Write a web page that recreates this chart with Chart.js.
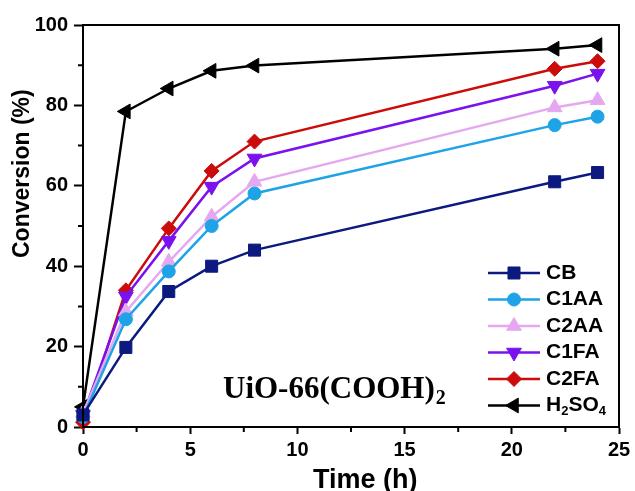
<!DOCTYPE html>
<html>
<head>
<meta charset="utf-8">
<script src="https://cdn.jsdelivr.net/npm/chart.js@4.4.1/dist/chart.umd.min.js"></script>
<style>
  html, body { margin: 0; padding: 0; background: #fff; }
  canvas { display: block; }
</style>
</head>
<body>
<canvas id="conv" width="635" height="491"></canvas>
<script>
(function() {
    'use strict';

    // reaction time (h) and conversion (%) per catalyst
    var times = [0, 2, 4, 6, 8, 22, 24];
    var cb    = [3.0, 19.8, 33.7, 40.0, 44.0, 61.0, 63.3];
    var c1aa  = [2.5, 26.8, 38.7, 50.0, 58.1, 75.1, 77.2];
    var c2aa  = [3.5, 28.7, 41.1, 52.3, 61.0, 79.5, 81.3];
    var c1fa  = [3.0, 32.5, 46.3, 59.8, 66.8, 84.9, 87.9];
    var c2fa  = [1.2, 34.0, 49.4, 63.7, 71.0, 89.1, 91.0];
    var h2so4 = [5.0, 78.5, 84.2, 88.6, 89.9, 94.1, 95.0];

    var xTicks = [0, 5, 10, 15, 20, 25];
    var yTicks = [0, 20, 40, 60, 80, 100];

    var series = [
        { label: 'CB',    values: cb,    color: '#0c1a80', style: 'rect',     rotation: 0,   radius: 8.5 },
        { label: 'C1AA',  values: c1aa,  color: '#1ea4e6', style: 'circle',   rotation: 0,   radius: 6.5 },
        { label: 'C2AA',  values: c2aa,  color: '#e5a8f0', style: 'triangle', rotation: 0,   radius: 8.5 },
        { label: 'C1FA',  values: c1fa,  color: '#7a12ee', style: 'triangle', rotation: 180, radius: 8.5 },
        { label: 'C2FA',  values: c2fa,  color: '#cc0b0b', style: 'rectRot',  rotation: 0,   radius: 7.5 },
        { label: 'H2SO4', values: h2so4, color: '#000000', style: 'triangle', rotation: 270, radius: 8.5 }
    ];

    var sans = '"Liberation Sans", Arial, sans-serif';
    var serif = '"Liberation Serif", "Times New Roman", serif';
    var tickFont = { family: sans, size: 20, weight: 'bold' };

    function toPoints(values) {
        return times.map(function(t, i) { return { x: t, y: values[i] }; });
    }

    var datasets = series.map(function(s) {
        return {
            label: s.label,
            data: toPoints(s.values),
            borderColor: s.color,
            backgroundColor: s.color,
            borderWidth: 2.5,
            pointStyle: s.style,
            pointRotation: s.rotation,
            pointRadius: s.radius,
            pointBorderWidth: 1,
            pointBackgroundColor: s.color,
            pointBorderColor: s.color,
            tension: 0,
            clip: false
        };
    });

    // frame, minor ticks, axis titles, annotation and in-plot legend
    var decorations = {
        id: 'decorations',
        afterDraw: function(chart) {
            var ctx = chart.ctx;
            var area = chart.chartArea;
            var xs = chart.scales.x;
            var ys = chart.scales.y;
            var h = Chart.helpers;

            ctx.save();
            ctx.strokeStyle = '#000';
            ctx.lineWidth = 2;
            ctx.strokeRect(area.left, area.top, area.right - area.left, area.bottom - area.top);

            ctx.beginPath();
            for (var mx = 2.5; mx < 25; mx += 5) {
                var px = xs.getPixelForValue(mx);
                ctx.moveTo(px, area.bottom);
                ctx.lineTo(px, area.bottom + 5);
            }
            for (var my = 10; my < 100; my += 20) {
                var py = ys.getPixelForValue(my);
                ctx.moveTo(area.left, py);
                ctx.lineTo(area.left - 5, py);
            }
            ctx.stroke();

            // axis titles
            ctx.fillStyle = '#000';
            ctx.textBaseline = 'alphabetic';
            ctx.textAlign = 'left';
            ctx.font = 'bold 27px ' + sans;
            ctx.fillText('Time (h)', 313, 488);

            ctx.save();
            ctx.translate(29, 258);
            ctx.rotate(-Math.PI / 2);
            ctx.font = 'bold 23px ' + sans;
            ctx.fillText('Conversion (%)', 0, 0);
            ctx.restore();

            // sample label
            ctx.font = 'bold 31px ' + serif;
            var main = 'UiO-66(COOH)';
            ctx.fillText(main, 223, 398);
            var w = ctx.measureText(main).width;
            ctx.font = 'bold 20px ' + serif;
            ctx.fillText('2', 223 + w + 1, 404);

            // legend
            var y0 = 273, step = 26.5;
            series.forEach(function(s, i) {
                var y = y0 + i * step;
                ctx.strokeStyle = s.color;
                ctx.fillStyle = s.color;
                ctx.lineWidth = 2.5;
                ctx.beginPath();
                ctx.moveTo(488, y);
                ctx.lineTo(540, y);
                ctx.stroke();
                ctx.lineWidth = 1;
                h.drawPoint(ctx, { pointStyle: s.style, rotation: s.rotation, radius: s.radius, borderWidth: 1 }, 514, y);

                ctx.fillStyle = '#000';
                ctx.textBaseline = 'middle';
                ctx.font = 'bold 21px ' + sans;
                if (s.label === 'H2SO4') {
                    var x = 546;
                    var sub = 'bold 13px ' + sans;
                    var big = 'bold 21px ' + sans;
                    [['H', big, 0], ['2', sub, 6], ['SO', big, 0], ['4', sub, 6]].forEach(function(part) {
                        ctx.font = part[1];
                        ctx.fillText(part[0], x, y + part[2]);
                        x += ctx.measureText(part[0]).width;
                    });
                } else {
                    ctx.fillText(s.label, 546, y);
                }
            });
            ctx.restore();
        }
    };

    new Chart(document.getElementById('conv'), {
        type: 'line',
        data: { datasets: datasets },
        options: {
            responsive: false,
            animation: false,
            devicePixelRatio: 1,
            layout: { padding: { top: 25, right: 16, left: 0, bottom: 0 } },
            plugins: {
                legend: { display: false },
                tooltip: { enabled: false }
            },
            scales: {
                x: {
                    type: 'linear',
                    min: 0,
                    max: 25,
                    afterFit: function(scale) { scale.height = 64; },
                    afterBuildTicks: function(scale) {
                        scale.ticks = xTicks.map(function(v) { return { value: v }; });
                    },
                    ticks: { font: tickFont, color: '#000', padding: 4, maxRotation: 0 },
                    grid: { drawOnChartArea: false, drawTicks: true, tickLength: 7, tickWidth: 2, color: '#000' },
                    border: { display: true, color: '#000', width: 2 }
                },
                y: {
                    min: 0,
                    max: 100,
                    afterFit: function(scale) { scale.width = 83; },
                    afterBuildTicks: function(scale) {
                        scale.ticks = yTicks.map(function(v) { return { value: v }; });
                    },
                    ticks: { font: tickFont, color: '#000', padding: 6 },
                    grid: { drawOnChartArea: false, drawTicks: true, tickLength: 9, tickWidth: 2, color: '#000' },
                    border: { display: true, color: '#000', width: 2 }
                }
            }
        },
        plugins: [decorations]
    });
})();
</script>
</body>
</html>
